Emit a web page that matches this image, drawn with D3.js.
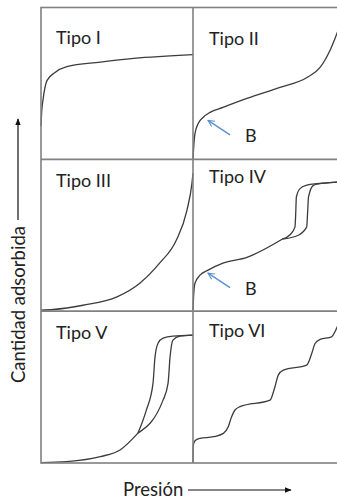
<!DOCTYPE html>
<html>
<head>
<meta charset="utf-8">
<script src="https://cdn.jsdelivr.net/npm/d3@7"></script>
<style>
  html, body { margin: 0; padding: 0; background: #fff; }
  svg { display: block; }
  text { font-family: Lato, "Open Sans", sans-serif; fill: #222; }
</style>
</head>
<body>
<svg id="chart" width="337" height="501"></svg>
<script>
// Panel titles (row-major: left column, right column)
const panelLabels = ["Tipo I", "Tipo II", "Tipo III", "Tipo IV", "Tipo V", "Tipo VI"];
const yAxisLabel = "Cantidad adsorbida";
const xAxisLabel = "Presión";
const pointLabel = "B";

// Isotherms: relative pressure (0–100) vs. amount adsorbed (0–100)
const tipoI_p = [0, 0.5, 1.3, 4, 9, 17, 39, 61, 100];
const tipoI_a = [22, 32, 39, 52, 57, 61, 64, 66.5, 69];

const tipoII_p = [0, 0.6, 1.3, 3.5, 6.6, 11.2, 19.7, 35.5, 57.2, 75, 83.6, 90.1, 94.7, 100];
const tipoII_a = [0, 10, 17, 23.7, 27.6, 30.9, 34.2, 40.1, 47.4, 53.9, 60.5, 71.7, 82.9, 97];

const tipoIII_p = [0, 8, 27.6, 50, 65, 78, 89, 96, 99.3, 100];
const tipoIII_a = [0.7, 1.1, 3.9, 9.4, 18.4, 31.6, 46.7, 66.4, 84.2, 90.8];

// Type IV: common branch, then hysteresis loop (desorption / adsorption)
const tipoIV_p = [0, 0.4, 1.3, 4.6, 9.9, 19.7, 35.5, 58.6];
const tipoIV_a = [0.7, 10, 18.4, 23.7, 27, 31.6, 35.5, 47.4];
const tipoIV_des_p = [58.6, 64, 67.1, 67.6, 68, 70.4, 75, 81.4, 90, 100];
const tipoIV_des_a = [47.4, 50.5, 55.5, 65, 75.2, 80.7, 83, 84, 84.6, 85.5];
const tipoIV_ads_p = [58.6, 69.3, 74.8, 75.4, 76, 79.2, 83.6, 90, 100];
const tipoIV_ads_a = [47.4, 50, 55.5, 65, 75.2, 82.9, 84, 84.6, 85.5];

// Type V: common branch, then hysteresis loop
const tipoV_p = [0, 16.9, 39, 52, 63.8];
const tipoV_a = [0.2, 0.9, 4.2, 8.6, 19.7];
const tipoV_des_p = [63.8, 69.3, 73.7, 75, 77, 80.3, 86.8, 100];
const tipoV_des_a = [19.7, 34.8, 52.6, 69.7, 78.9, 82.2, 83.6, 84.2];
const tipoV_ads_p = [63.8, 80.3, 83.6, 84.9, 86.8, 91.4, 100];
const tipoV_ads_a = [19.7, 41.4, 52.6, 69.7, 80.9, 83.6, 84.2];

// Type VI: stepwise multilayer adsorption
const tipoVI_p = [0, 0.2, 1.3, 4.6, 13.4, 20, 23.2, 25.4, 27.6, 30.9, 50.7, 53.9, 56.1, 59.4, 74.8, 78.1, 80.3, 83.6, 91.2, 93.4, 94.9, 100];
const tipoVI_a = [0, 11.8, 14.7, 16.2, 17.3, 19.5, 23.9, 30.5, 34.9, 37.1, 41.4, 50.2, 57.9, 61.2, 64.5, 72.1, 78.7, 81.4, 83.1, 86.4, 89.7, 98];

// "B" point (pressure, amount) in Types II and IV
const pointB_II = [8.9, 28.3];
const pointB_IV = [8.9, 27.7];

const panelCurves = [
  [[tipoI_p, tipoI_a]],
  [[tipoII_p, tipoII_a]],
  [[tipoIII_p, tipoIII_a]],
  [[tipoIV_p, tipoIV_a], [tipoIV_des_p, tipoIV_des_a], [tipoIV_ads_p, tipoIV_ads_a]],
  [[tipoV_p, tipoV_a], [tipoV_des_p, tipoV_des_a], [tipoV_ads_p, tipoV_ads_a]],
  [[tipoVI_p, tipoVI_a]]
];
const panelB = [null, pointB_II, null, pointB_IV, null, null];

const svg = d3.select("#chart");
const width = 337, height = 501;

// Grid of 2 columns x 3 rows
const colScale = d3.scaleBand().domain([0, 1]).range([41, 345]).paddingInner(0).paddingOuter(0);
const rowScale = d3.scaleBand().domain([0, 1, 2]).range([7.5, 463]).paddingInner(0).paddingOuter(0);

const defs = svg.append("defs");
defs.append("clipPath").attr("id", "frameClip")
  .append("rect").attr("x", 0).attr("y", 0).attr("width", width).attr("height", height);

defs.append("marker")
  .attr("id", "blackHead").attr("viewBox", "0 0 10 10")
  .attr("refX", 9).attr("refY", 5).attr("markerWidth", 7).attr("markerHeight", 7)
  .attr("markerUnits", "userSpaceOnUse").attr("orient", "auto")
  .append("path").attr("d", "M0,1 L10,5 L0,9 Z").attr("fill", "#111");

defs.append("marker")
  .attr("id", "blueHead").attr("viewBox", "0 0 10 10")
  .attr("refX", 9).attr("refY", 5).attr("markerWidth", 8).attr("markerHeight", 8)
  .attr("markerUnits", "userSpaceOnUse").attr("orient", "auto")
  .append("path").attr("d", "M1,1 L9,5 L1,9")
  .attr("fill", "none").attr("stroke", "#5b8fd2").attr("stroke-width", 1.4);

const root = svg.append("g").attr("clip-path", "url(#frameClip)");

const bw = colScale.bandwidth(), bh = rowScale.bandwidth();
const lineColor = "#3c3c3c";

panelLabels.forEach((label, i) => {
  const col = i % 2, row = Math.floor(i / 2);
  const x0 = colScale(col), y0 = rowScale(row);
  const x = d3.scaleLinear().domain([0, 100]).range([x0, x0 + bw]);
  const y = d3.scaleLinear().domain([0, 100]).range([y0 + bh, y0]);
  const g = root.append("g");

  const line = d3.line().x(d => x(d[0])).y(d => y(d[1])).curve(d3.curveMonotoneX);
  panelCurves[i].forEach(([ps, as]) => {
    g.append("path")
      .attr("d", line(ps.map((p, k) => [p, as[k]])))
      .attr("fill", "none").attr("stroke", lineColor).attr("stroke-width", 1.3);
  });

  const titleOffset = [36.5, 37.5, 28, 24, 28, 26][i];
  g.append("text").attr("x", x0 + (col === 0 ? 15 : 16)).attr("y", y0 + titleOffset)
    .attr("font-size", 18).text(label);

  const b = panelB[i];
  if (b) {
    const hx = x(b[0]) + 1.5, hy = y(b[1]) + 4;
    g.append("line")
      .attr("x1", hx + 22).attr("y1", hy + 14.5).attr("x2", hx).attr("y2", hy)
      .attr("stroke", "#5b8fd2").attr("stroke-width", 1.4)
      .attr("marker-end", "url(#blueHead)");
    g.append("text").attr("x", hx + 37).attr("y", hy + 21.5)
      .attr("font-size", 18).text(pointLabel);
  }
});

// Panel frame
const frame = root.append("g").attr("stroke", "#808080").attr("stroke-width", 1.6).attr("fill", "none");
frame.append("rect").attr("x", colScale(0)).attr("y", rowScale(0))
  .attr("width", bw * 2).attr("height", bh * 3);
frame.append("line").attr("x1", colScale(1)).attr("x2", colScale(1))
  .attr("y1", rowScale(0)).attr("y2", rowScale(2) + bh);
[1, 2].forEach(r => {
  frame.append("line").attr("x1", colScale(0)).attr("x2", colScale(1) + bw)
    .attr("y1", rowScale(r)).attr("y2", rowScale(r));
});

// Axis titles with arrows
svg.append("text")
  .attr("transform", "translate(25,383) rotate(-90)")
  .attr("font-size", 18.5).attr("text-anchor", "start").text(yAxisLabel);
svg.append("line").attr("x1", 18).attr("y1", 220).attr("x2", 18).attr("y2", 119)
  .attr("stroke", "#111").attr("stroke-width", 1.2).attr("marker-end", "url(#blackHead)");

svg.append("text").attr("x", 123).attr("y", 496)
  .attr("font-size", 18.5).text(xAxisLabel);
svg.append("line").attr("x1", 188).attr("y1", 490).attr("x2", 291).attr("y2", 490)
  .attr("stroke", "#111").attr("stroke-width", 1.2).attr("marker-end", "url(#blackHead)");
</script>
</body>
</html>
